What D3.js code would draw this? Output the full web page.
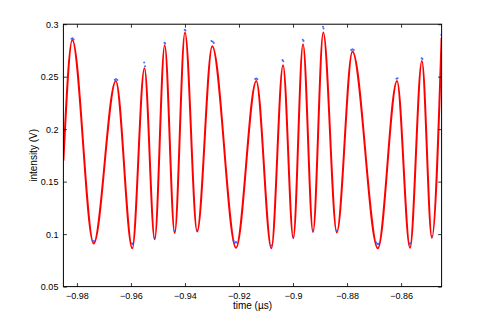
<!DOCTYPE html>
<html>
<head>
<meta charset="utf-8">
<script src="https://cdn.jsdelivr.net/npm/d3@7"></script>
<style>
  body { margin: 0; background: #fff; }
  svg { display: block; font-family: "Liberation Sans", Arial, sans-serif; }
</style>
</head>
<body>
<svg id="chart" width="488" height="322"></svg>
<script>
(function() {

  // fitted curve, read at its peaks and troughs (time in us, intensity in V)
  var fitTime = [-0.9850, -0.9817, -0.9738, -0.9656, -0.9595, -0.9550, -0.9512, -0.9475,
    -0.9438, -0.9400, -0.9355, -0.9299, -0.9211, -0.9136, -0.9080, -0.9037, -0.8999,
    -0.8963, -0.8926, -0.8888, -0.8838, -0.8780, -0.8686, -0.8615, -0.8567, -0.8523,
    -0.8486, -0.8450];
  var fitIntensity = [0.170, 0.285, 0.091, 0.246, 0.0865, 0.258, 0.095, 0.280,
    0.101, 0.292, 0.1025, 0.279, 0.087, 0.246, 0.0865, 0.261, 0.096,
    0.281, 0.102, 0.292, 0.1015, 0.274, 0.0865, 0.246, 0.087, 0.265,
    0.0965, 0.287];

  // measured samples that show beside the fit
  var dataTime = [-0.9820, -0.9816, -0.9812, -0.9741, -0.9736, -0.9660, -0.9655, -0.9650,
    -0.9596, -0.9594, -0.9551, -0.9548, -0.9512, -0.9476, -0.9473, -0.9438,
    -0.9401, -0.9398, -0.9355, -0.9302, -0.9297, -0.9293, -0.9220, -0.9216,
    -0.9212, -0.9208, -0.9140, -0.9136, -0.9132, -0.9082, -0.9078, -0.9039,
    -0.9036, -0.8999, -0.8964, -0.8961, -0.8926, -0.8889, -0.8887, -0.8838,
    -0.8785, -0.8780, -0.8775, -0.8692, -0.8688, -0.8684, -0.8680, -0.8617,
    -0.8613, -0.8569, -0.8566, -0.8524, -0.8521, -0.8486, -0.8451];
  var dataIntensity = [0.2862, 0.2865, 0.2855, 0.0935, 0.0932, 0.2470, 0.2478, 0.2468,
    0.0912, 0.0905, 0.2635, 0.2600, 0.0965, 0.2823, 0.2815, 0.1030,
    0.2948, 0.2940, 0.1040, 0.2840, 0.2832, 0.2820, 0.0940, 0.0915,
    0.0925, 0.0920, 0.2478, 0.2482, 0.2475, 0.0890, 0.0895, 0.2660,
    0.2648, 0.0980, 0.2852, 0.2840, 0.1040, 0.2975, 0.2960, 0.1035,
    0.2755, 0.2762, 0.2755, 0.0920, 0.0905, 0.0905, 0.0915, 0.2480,
    0.2485, 0.0905, 0.0915, 0.2675, 0.2668, 0.0985, 0.2900];

  var xTicks = [-0.98, -0.96, -0.94, -0.92, -0.9, -0.88, -0.86];
  var yTicks = [0.05, 0.1, 0.15, 0.2, 0.25, 0.3];

  var left = 63.4, top = 24.2, width = 378.2, height = 262.4;

  var svg = d3.select('#chart');

  var x = d3.scaleLinear().domain([-0.985, -0.845]).range([left, left + width]);
  var y = d3.scaleLinear().domain([0.05, 0.3]).range([top + height, top]);

  svg.append('clipPath')
      .attr('id', 'plot-clip')
    .append('rect')
      .attr('x', left)
      .attr('y', top - 2)
      .attr('width', width)
      .attr('height', height + 4);

  var fit = fitTime.map(function(t, i) { return [t, fitIntensity[i]]; });
  var samples = dataTime.map(function(t, i) { return [t, dataIntensity[i]]; });

  var line = d3.line()
      .x(function(d) { return x(d[0]); })
      .y(function(d) { return y(d[1]); })
      .curve(d3.curveMonotoneX);

  var plot = svg.append('g').attr('clip-path', 'url(#plot-clip)');

  plot.append('path')
      .datum(fit)
      .attr('d', line)
      .style('fill', 'none')
      .style('stroke', '#ff0000')
      .style('stroke-width', 2)
      .style('stroke-linejoin', 'round');

  plot.selectAll('circle')
      .data(samples)
    .enter().append('circle')
      .attr('cx', function(d) { return x(d[0]); })
      .attr('cy', function(d) { return y(d[1]); })
      .attr('r', 1)
      .style('fill', '#3050ff')
      .style('opacity', 0.85);

  // axes, box on with inward ticks like matlab
  var bottomAxis = d3.axisBottom(x).tickValues(xTicks).tickSizeInner(-3.5).tickSizeOuter(0)
      .tickPadding(6).tickFormat(function(d) { return d3.format('')(d).replace('-', '\u2212'); });
  var topAxis = d3.axisTop(x).tickValues(xTicks).tickSizeInner(-3.5).tickSizeOuter(0)
      .tickFormat('');
  var leftAxis = d3.axisLeft(y).tickValues(yTicks).tickSizeInner(-3.5).tickSizeOuter(0)
      .tickPadding(5).tickFormat(d3.format(''));
  var rightAxis = d3.axisRight(y).tickValues(yTicks).tickSizeInner(-3.5).tickSizeOuter(0)
      .tickFormat('');

  svg.append('g').attr('transform', 'translate(0,' + (top + height) + ')').call(bottomAxis);
  svg.append('g').attr('transform', 'translate(0,' + top + ')').call(topAxis);
  svg.append('g').attr('transform', 'translate(' + left + ',0)').call(leftAxis);
  svg.append('g').attr('transform', 'translate(' + (left + width) + ',0)').call(rightAxis);

  svg.selectAll('.domain').remove();
  svg.selectAll('.tick line').style('stroke', '#000').style('stroke-width', 0.8);
  svg.selectAll('.tick text')
      .style('font-family', '"Liberation Sans", Arial, sans-serif')
      .style('font-size', '9px')
      .style('fill', '#000');

  svg.append('rect')
      .attr('x', left)
      .attr('y', top)
      .attr('width', width)
      .attr('height', height)
      .style('fill', 'none')
      .style('stroke', '#000')
      .style('stroke-width', 1);

  svg.append('text')
      .attr('x', left + width / 2)
      .attr('y', 309)
      .attr('text-anchor', 'middle')
      .style('font-size', '10px')
      .text('time (\u00b5s)');

  svg.append('text')
      .attr('transform', 'translate(37,' + (top + height / 2) + ') rotate(-90)')
      .attr('text-anchor', 'middle')
      .style('font-size', '10px')
      .text('intensity (V)');

})();
</script>
</body>
</html>
